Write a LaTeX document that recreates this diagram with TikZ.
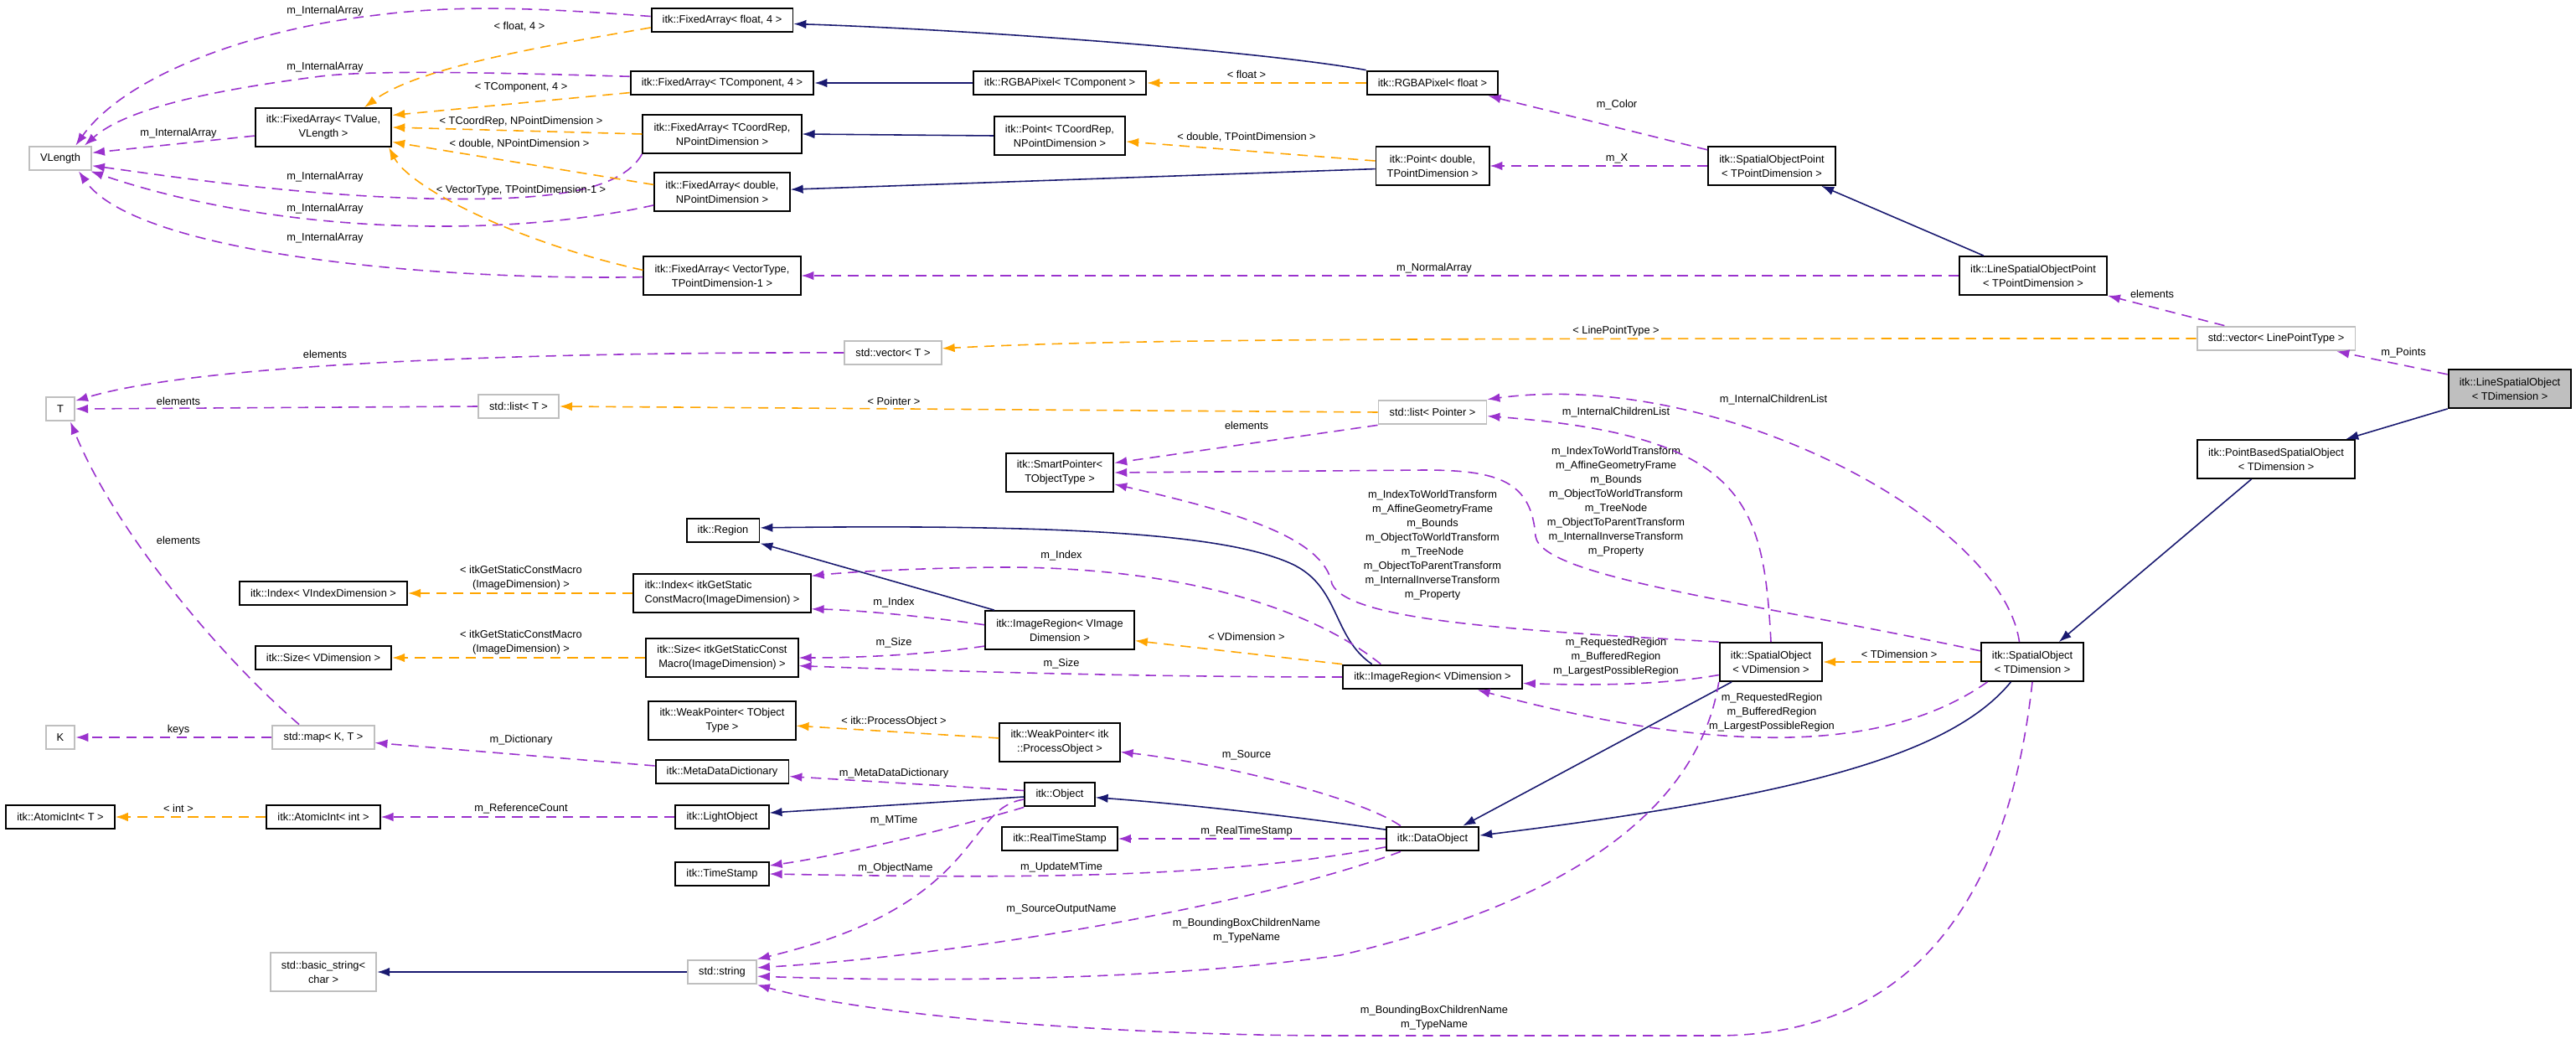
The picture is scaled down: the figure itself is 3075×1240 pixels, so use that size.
\documentclass[tikz,border=0pt]{standalone}
\usepackage{fontspec}
\setmainfont{Liberation Sans}
\usetikzlibrary{arrows.meta}
\definecolor{navyedge}{HTML}{191970}
\definecolor{memberedge}{HTML}{9A32CD}
\definecolor{tmpledge}{HTML}{FFA500}
\definecolor{undocgray}{HTML}{BFBFBF}
\newcommand{\dgfont}{\fontsize{7.3pt}{9.67pt}\selectfont}

\begin{document}
\begin{tikzpicture}[
		x=0.02cm, y=-0.02cm,
		cls/.style={draw, line width=1.1pt, fill=white, align=center, font=\dgfont, inner xsep=7.5pt, inner ysep=3pt, minimum height=16.4pt},
		undoc/.style={cls, draw=undocgray},
		two/.style={minimum height=26.1pt},
		isa/.style={-{Latex[length=8.5pt,width=6pt]}, line width=0.9pt, draw=navyedge},
		hasa/.style={-{Latex[length=8.5pt,width=6pt]}, line width=0.9pt, draw=memberedge, dash pattern=on 7pt off 4.5pt},
		tmplarg/.style={hasa, draw=tmpledge},
		lbl/.style={font=\dgfont, align=center, inner sep=0pt, text=black}
	]
		\path[use as bounding box, fill=white] (0,0) rectangle (3075,1240);
		\node[cls] (fafloat) at (862,24) {itk::FixedArray< float, 4 >};
		\node[cls] (facomp) at (862,99) {itk::FixedArray< TComponent, 4 >};
		\node[cls, two] (fatvalue) at (386,152) {itk::FixedArray< TValue,\\VLength >};
		\node[cls, two] (facoord) at (862,160) {itk::FixedArray< TCoordRep,\\NPointDimension >};
		\node[cls, two] (fadouble) at (862,229) {itk::FixedArray< double,\\NPointDimension >};
		\node[cls, two] (favector) at (862,329) {itk::FixedArray< VectorType,\\TPointDimension-1 >};
		\node[undoc] (vlength) at (72,189) {VLength};
		\node[cls] (rgbacomp) at (1265,99) {itk::RGBAPixel< TComponent >};
		\node[cls] (rgbafloat) at (1710,99) {itk::RGBAPixel< float >};
		\node[cls, two] (ptcoord) at (1265,162) {itk::Point< TCoordRep,\\NPointDimension >};
		\node[cls, two] (ptdouble) at (1710,198) {itk::Point< double,\\TPointDimension >};
		\node[cls, two] (sopoint) at (2115,198) {itk::SpatialObjectPoint\\< TPointDimension >};
		\node[cls, two] (lsopoint) at (2427,329) {itk::LineSpatialObjectPoint\\< TPointDimension >};
		\node[undoc] (veclpt) at (2717,404) {std::vector< LinePointType >};
		\node[cls, two, fill=undocgray] (lso) at (2996,464) {itk::LineSpatialObject\\< TDimension >};
		\node[cls, two] (pbso) at (2717,548) {itk::PointBasedSpatialObject\\< TDimension >};
		\node[cls, two] (sotdim) at (2426,790) {itk::SpatialObject\\< TDimension >};
		\node[cls, two] (sovdim) at (2114,790) {itk::SpatialObject\\< VDimension >};
		\node[undoc] (vect) at (1066,421) {std::vector< T >};
		\node[undoc] (listptr) at (1710,492) {std::list< Pointer >};
		\node[undoc] (listt) at (619,485) {std::list< T >};
		\node[undoc] (tnode) at (72,488) {T};
		\node[cls, two] (smartptr) at (1265,564) {itk::SmartPointer<\\TObjectType >};
		\node[cls] (region) at (863,633) {itk::Region};
		\node[cls] (idxv) at (386,708) {itk::Index< VIndexDimension >};
		\node[cls, two, align=left] (idxm) at (862,708) {itk::Index< itkGetStatic\\ConstMacro(ImageDimension) >};
		\node[cls] (sizev) at (386,785) {itk::Size< VDimension >};
		\node[cls, two] (sizem) at (862,785) {itk::Size< itkGetStaticConst\\Macro(ImageDimension) >};
		\node[cls, two] (irvimg) at (1265,752) {itk::ImageRegion< VImage\\Dimension >};
		\node[cls] (irvdim) at (1710,808) {itk::ImageRegion< VDimension >};
		\node[undoc] (knode) at (72,880) {K};
		\node[undoc] (mapkt) at (386,880) {std::map< K, T >};
		\node[cls, two] (wpt) at (862,860) {itk::WeakPointer< TObject\\Type >};
		\node[cls, two] (wppo) at (1265,886) {itk::WeakPointer< itk\\::ProcessObject >};
		\node[cls] (mdd) at (862,921) {itk::MetaDataDictionary};
		\node[cls] (aint) at (72,975) {itk::AtomicInt< T >};
		\node[cls] (aintint) at (386,975) {itk::AtomicInt< int >};
		\node[cls] (lightobj) at (862,975) {itk::LightObject};
		\node[cls] (object) at (1265,948) {itk::Object};
		\node[cls] (timestamp) at (862,1043) {itk::TimeStamp};
		\node[cls] (rts) at (1265,1001) {itk::RealTimeStamp};
		\node[cls] (dataobj) at (1710,1001) {itk::DataObject};
		\node[undoc, two] (bstring) at (386,1160) {std::basic\_string<\\char >};
		\node[undoc] (stdstring) at (862,1160) {std::string};

		\draw[hasa] (fafloat.177) .. controls (650,10) and (550,5) .. (450,18) .. controls (300,35) and (150,90) .. (vlength.40) node[lbl] at (388,13) {m\_InternalArray};
		\draw[tmplarg] (fafloat.186) .. controls (650,55) and (500,80) .. (fatvalue.26) node[lbl] at (620,32) {< float, 4 >};
		\draw[hasa] (facomp.176) .. controls (600,87) and (450,83) .. (383,91) .. controls (250,108) and (150,130) .. (vlength.28) node[lbl] at (388,80) {m\_InternalArray};
		\draw[tmplarg] (facomp.186) -- (fatvalue.10) node[lbl] at (622,104) {< TComponent, 4 >};
		\draw[hasa] (fatvalue.187) -- (vlength.10) node[lbl] at (213,159) {m\_InternalArray};
		\draw[tmplarg] (facoord.west) -- (fatvalue.east) node[lbl] at (622,145) {< TCoordRep, NPointDimension >};
		\draw[hasa] (facoord.south west) .. controls (740,230) and (650,240) .. (510,237) .. controls (350,233) and (200,210) .. (vlength.347) node[lbl] at (388,211) {m\_InternalArray};
		\draw[tmplarg] (fadouble.174) -- (fatvalue.348) node[lbl] at (620,172) {< double, NPointDimension >};
		\draw[hasa] (fadouble.191) .. controls (600,285) and (330,280) .. (vlength.337) node[lbl] at (388,249) {m\_InternalArray};
		\draw[tmplarg] (favector.176) .. controls (620,290) and (490,225) .. (fatvalue.343) node[lbl] at (622,227) {< VectorType, TPointDimension-1 >};
		\draw[hasa] (favector.181) .. controls (500,335) and (160,300) .. (vlength.325) node[lbl] at (388,284) {m\_InternalArray};

		\draw[isa] (rgbafloat.north west) .. controls (1500,60) and (1150,35) .. (fafloat.357);
		\draw[isa] (rgbacomp.west) -- (facomp.east);
		\draw[tmplarg] (rgbafloat.west) -- (rgbacomp.east) node[lbl] at (1488,89) {< float >};
		\draw[isa] (ptcoord.west) -- (facoord.east);
		\draw[isa] (ptdouble.183) -- (fadouble.2);
		\draw[tmplarg] (ptdouble.175) -- (ptcoord.355) node[lbl] at (1488,164) {< double, TPointDimension >};
		\draw[hasa] (sopoint.166) -- (rgbafloat.347) node[lbl] at (1930,125) {m\_Color};
		\draw[hasa] (sopoint.west) -- (ptdouble.east) node[lbl] at (1930,189) {m\_X};
		\draw[isa] (lsopoint.158) -- (sopoint.338);
		\draw[hasa] (lsopoint.west) -- (favector.east) node[lbl] at (1712,320) {m\_NormalArray};
		\draw[hasa] (veclpt.166) -- (lsopoint.south east) node[lbl] at (2569,351) {elements};
		\draw[tmplarg] (veclpt.west) .. controls (1700,404) and (1350,404) .. (vect.5) node[lbl] at (1929,395) {< LinePointType >};
		\draw[hasa] (lso.167) -- (veclpt.348) node[lbl] at (2869,421) {m\_Points};
		\draw[isa] (lso.south west) -- (pbso.16);
		\draw[isa] (pbso.219) -- (sotdim.37);
		\draw[tmplarg] (sotdim.west) -- (sovdim.east) node[lbl] at (2267,781) {< TDimension >};

		\draw[hasa] (vect.west) .. controls (700,420) and (250,430) .. (tnode.28) node[lbl] at (388,423) {elements};
		\draw[hasa] (listt.west) -- (tnode.east) node[lbl] at (213,479) {elements};
		\draw[hasa] (mapkt.152) .. controls (270,790) and (140,640) .. (tnode.308) node[lbl] at (213,645) {elements};
		\draw[tmplarg] (listptr.west) -- (listt.east) node[lbl] at (1067,479) {< Pointer >};
		\draw[hasa] (listptr.south west) -- (smartptr.10) node[lbl] at (1488,508) {elements};
		\draw[hasa] (sotdim.168) .. controls (2100,720) and (1840,690) .. (1833,640) .. controls (1828,575) and (1790,561) .. (1700,561) -- (smartptr.east) node[lbl] at (1929,599) {m\_IndexToWorldTransform\\m\_AffineGeometryFrame\\m\_Bounds\\m\_ObjectToWorldTransform\\m\_TreeNode\\m\_ObjectToParentTransform\\m\_InternalInverseTransform\\m\_Property};
		\draw[hasa] (sovdim.north west) .. controls (1800,752) and (1610,740) .. (1590,697) .. controls (1580,640) and (1470,610) .. (smartptr.348) node[lbl] at (1710,651) {m\_IndexToWorldTransform\\m\_AffineGeometryFrame\\m\_Bounds\\m\_ObjectToWorldTransform\\m\_TreeNode\\m\_ObjectToParentTransform\\m\_InternalInverseTransform\\m\_Property};
		\draw[hasa] (sotdim.123) .. controls (2390,620) and (2050,440) .. (listptr.north east) node[lbl] at (2117,477) {m\_InternalChildrenList};
		\draw[hasa] (sovdim.north) .. controls (2105,600) and (2085,520) .. (listptr.356) node[lbl] at (1929,492) {m\_InternalChildrenList};
		\draw[hasa] (sovdim.194) .. controls (1980,818) and (1900,818) .. (irvdim.356) node[lbl] at (1929,784) {m\_RequestedRegion\\m\_BufferedRegion\\m\_LargestPossibleRegion};
		\draw[hasa] (sotdim.204) .. controls (2250,900) and (2050,900) .. (irvdim.344) node[lbl] at (2115,850) {m\_RequestedRegion\\m\_BufferedRegion\\m\_LargestPossibleRegion};

		\draw[tmplarg] (irvdim.north west) -- (irvimg.352) node[lbl] at (1488,760) {< VDimension >};
		\draw[isa] (irvdim.168) .. controls (1590,760) and (1600,700) .. (1542,673) .. controls (1470,640) and (1300,625) .. (region.4);
		\draw[isa] (irvimg.163) -- (region.south east);
		\draw[hasa] (irvimg.176) .. controls (1100,735) and (1020,728) .. (idxm.350) node[lbl] at (1067,719) {m\_Index};
		\draw[hasa] (irvdim.166) .. controls (1560,722) and (1400,676) .. (1191,677) .. controls (1100,678) and (1020,682) .. (idxm.11) node[lbl] at (1267,663) {m\_Index};
		\draw[hasa] (irvimg.192) .. controls (1100,782) and (1020,785) .. (sizem.east) node[lbl] at (1067,767) {m\_Size};
		\draw[hasa] (irvdim.west) .. controls (1350,808) and (1100,800) .. (sizem.354) node[lbl] at (1267,792) {m\_Size};
		\draw[tmplarg] (idxm.west) -- (idxv.east) node[lbl] at (622,690) {< itkGetStaticConstMacro\\(ImageDimension) >};
		\draw[tmplarg] (sizem.west) -- (sizev.east) node[lbl] at (622,767) {< itkGetStaticConstMacro\\(ImageDimension) >};

		\draw[hasa] (mapkt.west) -- (knode.east) node[lbl] at (213,871) {keys};
		\draw[hasa] (mdd.175) -- (mapkt.354) node[lbl] at (622,883) {m\_Dictionary};
		\draw[tmplarg] (wppo.176) -- (wpt.356) node[lbl] at (1067,861) {< itk::ProcessObject >};
		\draw[hasa] (object.174) -- (mdd.356) node[lbl] at (1067,923) {m\_MetaDataDictionary};
		\draw[isa] (object.184) -- (lightobj.5);
		\draw[hasa] (lightobj.west) -- (aintint.east) node[lbl] at (622,965) {m\_ReferenceCount};
		\draw[tmplarg] (aintint.west) -- (aint.east) node[lbl] at (213,965) {< int >};
		\draw[hasa] (object.south west) .. controls (1150,985) and (1010,1020) .. (timestamp.10) node[lbl] at (1067,979) {m\_MTime};
		\draw[hasa] (dataobj.190) .. controls (1450,1050) and (1200,1048) .. (timestamp.east) node[lbl] at (1267,1035) {m\_UpdateMTime};
		\draw[hasa] (object.188) .. controls (1150,965) and (1175,1080) .. (stdstring.north east) node[lbl] at (1069,1036) {m\_ObjectName};
		\draw[hasa] (dataobj.158) .. controls (1620,950) and (1450,910) .. (wppo.351) node[lbl] at (1488,901) {m\_Source};
		\draw[isa] (dataobj.169) .. controls (1550,975) and (1420,960) .. (object.355);
		\draw[hasa] (dataobj.west) -- (rts.east) node[lbl] at (1488,992) {m\_RealTimeStamp};
		\draw[hasa] (dataobj.202) .. controls (1500,1080) and (1150,1140) .. (stdstring.7) node[lbl] at (1267,1085) {m\_SourceOutputName};
		\draw[isa] (sovdim.207) -- (dataobj.23);
		\draw[isa] (sotdim.223) .. controls (2330,900) and (2150,950) .. (dataobj.4);
		\draw[hasa] (sovdim.south west) .. controls (2030,950) and (1900,1070) .. (1600,1140) .. controls (1350,1175) and (1050,1170) .. (stdstring.353) node[lbl] at (1488,1111) {m\_BoundingBoxChildrenName\\m\_TypeName};
		\draw[hasa] (sotdim.south) .. controls (2400,1050) and (2300,1235) .. (2050,1236) -- (1600,1236) .. controls (1350,1236) and (1050,1215) .. (stdstring.south east) node[lbl] at (1712,1215) {m\_BoundingBoxChildrenName\\m\_TypeName};
		\draw[isa] (stdstring.west) -- (bstring.east);
	\end{tikzpicture}
\end{document}
